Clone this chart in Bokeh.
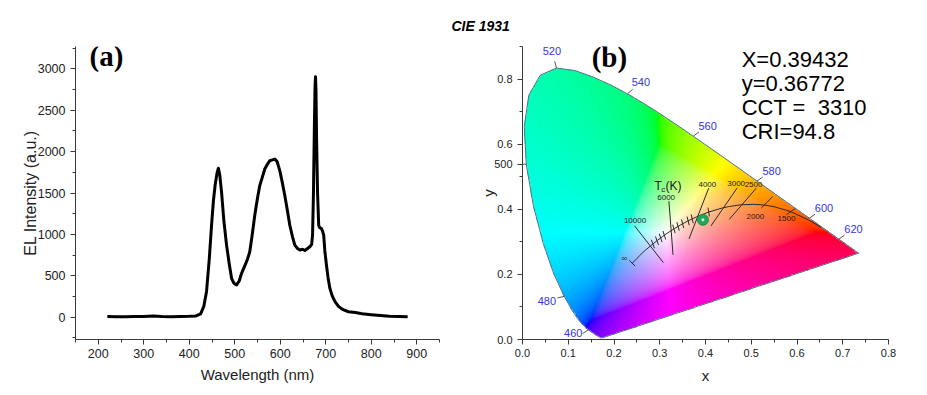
import numpy as np
from bokeh.plotting import figure
from bokeh.layouts import row
from bokeh.models import (Range1d, Label, LabelSet, ColumnDataSource,
                          PrintfTickFormatter, SingleIntervalTicker, FixedTicker)
from bokeh.core.properties import value
from bokeh.embed import file_html
from bokeh.resources import INLINE

# ---------------- Panel (a): EL spectrum ----------------
wavelength_nm = [220, 240, 260, 280, 300, 320, 340, 360, 380, 400, 415, 425, 432, 438,
                 444, 449, 453, 457, 461, 464, 467, 471, 476, 482, 488, 493, 498, 504,
                 510, 515, 522, 528, 533, 538, 544, 550, 555, 560, 566, 572, 577, 583,
                 588, 593, 599, 604, 610, 616, 621, 627, 632, 638, 643, 649, 654, 660,
                 665, 669, 671, 673, 675, 676.5, 677.5, 678.5, 680, 682, 684.5, 687,
                 690.5, 693, 695.5, 698, 701.5, 705, 709, 714, 720, 728, 738, 750, 765,
                 780, 800, 820, 840, 860, 880]
el_intensity = [8, 6, 5, 8, 7, 15, 8, 6, 8, 10, 15, 40, 130, 310,
                700, 1110, 1400, 1600, 1740, 1800, 1720, 1510, 1170, 870, 640, 470, 410, 390,
                440, 530, 620, 700, 790, 980, 1230, 1440, 1590, 1680, 1790, 1850, 1890, 1900,
                1910, 1880, 1770, 1640, 1470, 1280, 1110, 970, 870, 830, 810, 820, 805, 830,
                850, 880, 990, 1500, 2300, 2800, 2905, 2750, 2100, 1500, 1110, 1080,
                1070, 1040, 990, 800, 630, 480, 350, 260, 190, 130, 90, 65, 55,
                40, 30, 20, 12, 8, 5]

# ---------------- Panel (b): CIE 1931 chromaticity ----------------
locus_nm = list(range(380, 705, 5))
locus_x = [0.1741, 0.1740, 0.1738, 0.1736, 0.1733, 0.1730, 0.1726, 0.1721, 0.1714,
           0.1703, 0.1689, 0.1669, 0.1644, 0.1611, 0.1566, 0.1510, 0.1440, 0.1355, 0.1241, 0.1096,
           0.0913, 0.0687, 0.0454, 0.0235, 0.0082, 0.0039, 0.0139, 0.0389, 0.0743, 0.1142, 0.1547,
           0.1929, 0.2296, 0.2658, 0.3016, 0.3373, 0.3731, 0.4087, 0.4441, 0.4788, 0.5125, 0.5448,
           0.5752, 0.6029, 0.6270, 0.6482, 0.6658, 0.6801, 0.6915, 0.7006, 0.7079, 0.7140, 0.7190,
           0.7230, 0.7260, 0.7283, 0.7300, 0.7311, 0.7320, 0.7327, 0.7334, 0.7340, 0.7344, 0.7346, 0.7347]
locus_y = [0.0050, 0.0050, 0.0049, 0.0049, 0.0048, 0.0048, 0.0048, 0.0048, 0.0051,
           0.0058, 0.0069, 0.0086, 0.0109, 0.0138, 0.0177, 0.0227, 0.0297, 0.0399, 0.0578, 0.0868,
           0.1327, 0.2007, 0.2950, 0.4127, 0.5384, 0.6548, 0.7502, 0.8120, 0.8338, 0.8262, 0.8059,
           0.7816, 0.7543, 0.7243, 0.6923, 0.6589, 0.6245, 0.5896, 0.5547, 0.5202, 0.4866, 0.4544,
           0.4242, 0.3965, 0.3725, 0.3514, 0.3340, 0.3197, 0.3083, 0.2993, 0.2920, 0.2859, 0.2809,
           0.2770, 0.2740, 0.2717, 0.2700, 0.2689, 0.2680, 0.2673, 0.2666, 0.2660, 0.2656, 0.2654, 0.2653]
wl_label_nm = [460, 480, 520, 540, 560, 580, 600, 620]
wl_axis_label_nm = 500   # this one sits left of the y axis in the reference

planck_T = ["1000", "1200", "1500", "1800", "2000", "2200", "2500", "2800", "3000", "3500",
            "4000", "4500", "5000", "5500", "6000", "6500", "7000", "8000", "9000", "10000",
            "12000", "15000", "20000", "30000", "inf"]
planck_x = [0.6528, 0.6251, 0.5857, 0.5497, 0.5267, 0.5056, 0.4770, 0.4525, 0.4369, 0.4053,
            0.3805, 0.3608, 0.3451, 0.3325, 0.3221, 0.3135, 0.3064, 0.2952, 0.2869, 0.2807,
            0.2719, 0.2637, 0.2565, 0.2501, 0.2399]
planck_y = [0.3444, 0.3674, 0.3931, 0.4081, 0.4133, 0.4152, 0.4137, 0.4086, 0.4041, 0.3907,
            0.3768, 0.3636, 0.3516, 0.3411, 0.3318, 0.3237, 0.3166, 0.3048, 0.2956, 0.2884,
            0.2782, 0.2683, 0.2577, 0.2489, 0.2342]
planck_tick_x = [0.285, 0.294, 0.302, 0.310, 0.331, 0.340, 0.350, 0.362, 0.371, 0.407]

iso_labels = ["10000", "6000", "4000", "3000", "2500", "2000", "1500"]
iso_x_top = [0.245, 0.320, 0.407, 0.469, 0.511, 0.547, 0.596]
iso_y_top = [0.349, 0.425, 0.465, 0.465, 0.465, 0.439, 0.402]
iso_x_bot = [0.308, 0.329, 0.364, 0.412, 0.452, 0.522, 0.577]
iso_y_bot = [0.236, 0.260, 0.309, 0.349, 0.369, 0.404, 0.384]
iso_label_x = [0.246, 0.314, 0.404, 0.467, 0.505, 0.509, 0.577]
iso_label_y = [0.366, 0.437, 0.475, 0.480, 0.475, 0.379, 0.372]

point_x = [0.39432]
point_y = [0.36772]
stat_lines = ["X=0.39432", "y=0.36772", "CCT =\u00a0 3310", "CRI=94.8"]

FONT = "Liberation Sans"
AXC = "#3a3a3a"
PX_X = 457.5   # px per unit x in panel b
PX_Y = 329.0   # px per unit y in panel b


def style_axes(p, tick_size):
    for ax in (p.xaxis[0], p.yaxis[0]):
        ax.axis_line_color = AXC
        ax.major_tick_line_color = AXC
        ax.minor_tick_line_color = AXC
        ax.major_tick_out = 5
        ax.major_tick_in = 0
        ax.minor_tick_out = 3
        ax.minor_tick_in = 0
        ax.major_label_text_font = FONT
        ax.major_label_text_font_size = tick_size
        ax.major_label_text_color = "#222222"
        ax.axis_label_text_font = FONT
        ax.axis_label_text_font_style = "normal"
        ax.axis_label_text_color = "#222222"
    p.grid.visible = False
    p.outline_line_color = None


# ---------- figure A ----------
pa = figure(width=447, height=386, x_range=Range1d(150, 950), y_range=Range1d(-270, 3270),
            output_backend="svg", toolbar_location=None,
            min_border_left=75, min_border_right=8, min_border_top=46, min_border_bottom=45)
pa.line(wavelength_nm, el_intensity, line_width=3, line_color="black", line_join="round")
pa.xaxis.ticker = SingleIntervalTicker(interval=100, num_minor_ticks=2)
pa.yaxis.ticker = SingleIntervalTicker(interval=500, num_minor_ticks=2)
pa.xaxis.axis_label = "Wavelength (nm)"
pa.yaxis.axis_label = "EL Intensity (a.u.)"
style_axes(pa, "12.5px")
pa.xaxis.axis_label_text_font_size = "15px"
pa.yaxis.axis_label_text_font_size = "16px"
pa.xaxis.major_label_standoff = 4
pa.xaxis.axis_label_standoff = 5
pa.yaxis.major_label_standoff = 5
pa.yaxis.axis_label_standoff = -4
pa.add_layout(Label(x=218, y=3150, text="(a)", text_font="Liberation Serif",
                    text_font_style="bold", text_font_size="29px",
                    text_align="center", text_baseline="middle", text_color="black"))

# ---------- figure B ----------
pb = figure(width=471, height=386, x_range=Range1d(0, 0.8), y_range=Range1d(0, 0.9),
            output_backend="svg", toolbar_location=None,
            min_border_left=75, min_border_right=30, min_border_top=46, min_border_bottom=45)
pb.title.text = "CIE 1931"
pb.title.align = "left"
pb.title.offset = -71
pb.title.standoff = 26
pb.title.text_font = FONT
pb.title.text_font_style = "bold italic"
pb.title.text_font_size = "14px"
pb.title.text_color = "black"

# chromaticity colour fill
lx = np.array(locus_x)
ly = np.array(locus_y)
NX, NY = 480, 540
gx = (np.arange(NX) + 0.5) / NX * 0.8
gy = (np.arange(NY) + 0.5) / NY * 0.9
GX, GY = np.meshgrid(gx, gy)
inside = np.zeros(GX.shape, dtype=bool)
n = len(lx)
j = n - 1
for i in range(n):
    xi, yi, xj, yj = lx[i], ly[i], lx[j], ly[j]
    if yi != yj:
        cond = ((yi > GY) != (yj > GY)) & (GX < (xj - xi) * (GY - yi) / (yj - yi) + xi)
        inside ^= cond
    j = i
Xc = GX / GY
Zc = (1.0 - GX - GY) / GY
R = 3.2406 * Xc - 1.5372 - 0.4986 * Zc
G = -0.9689 * Xc + 1.8758 + 0.0415 * Zc
B = 0.0557 * Xc - 0.2040 + 1.0570 * Zc
rgb = np.stack([R, G, B], axis=-1)
mn = rgb.min(axis=-1, keepdims=True)
rgb = rgb - np.minimum(mn, 0)
mx = rgb.max(axis=-1, keepdims=True)
mx[mx <= 0] = 1
rgb = np.clip(rgb / mx, 0, 1) ** (1 / 2.2)
img = np.zeros((NY, NX), dtype=np.uint32)
view = img.view(dtype=np.uint8).reshape((NY, NX, 4))
view[..., 0] = (rgb[..., 0] * 255).astype(np.uint8)
view[..., 1] = (rgb[..., 1] * 255).astype(np.uint8)
view[..., 2] = (rgb[..., 2] * 255).astype(np.uint8)
view[..., 3] = np.where(inside, 255, 0).astype(np.uint8)
pb.image_rgba(image=[img], x=0, y=0, dw=0.8, dh=0.9)

# locus outline
pb.line(list(lx) + [lx[0]], list(ly) + [ly[0]], line_color="#50708c", line_width=1)

# wavelength ticks & labels (normal taken in data space, as in the reference)
cx0, cy0 = 0.31, 0.31
tk_x0, tk_y0, tk_x1, tk_y1, lab_x, lab_y, lab_t = [], [], [], [], [], [], []
for nm in wl_label_nm:
    i = locus_nm.index(nm)
    tx = lx[i + 1] - lx[i - 1]
    ty = ly[i + 1] - ly[i - 1]
    nvec = np.array([ty, -tx])
    if np.dot(nvec, [lx[i] - cx0, ly[i] - cy0]) < 0:
        nvec = -nvec
    sv = np.array([nvec[0] * PX_X, nvec[1] * PX_Y])
    sv /= np.hypot(*sv)
    px, py = lx[i] * PX_X, ly[i] * PX_Y
    tk_x0.append(lx[i]); tk_y0.append(ly[i])
    tk_x1.append((px + sv[0] * 7) / PX_X); tk_y1.append((py + sv[1] * 7) / PX_Y)
    lab_x.append((px + sv[0] * 18) / PX_X)
    lab_y.append(max((py + sv[1] * 18) / PX_Y, 0.021))
    lab_t.append(str(nm))
i500 = locus_nm.index(wl_axis_label_nm)
tk_x0.append(lx[i500]); tk_y0.append(ly[i500])
tk_x1.append(0.0); tk_y1.append(ly[i500])
pb.segment(tk_x0, tk_y0, tk_x1, tk_y1, line_color="#555555", line_width=1)
pb.add_layout(LabelSet(x="x", y="y", text="t",
                       source=ColumnDataSource(dict(x=lab_x, y=lab_y, t=lab_t)),
                       text_font=value(FONT), text_font_size="11px", text_color="#3434e6",
                       text_align="center", text_baseline="middle"))

# Planckian locus
pb.line(planck_x, planck_y, line_color="#2a2a2a", line_width=1, line_join="round")
pxr = np.array(planck_x)[::-1]
pyr = np.array(planck_y)[::-1]
tkx = np.array(planck_tick_x)
tky = np.interp(tkx, pxr, pyr)
d = 0.004
sl_x = 2 * d * PX_X
sl_y = (np.interp(tkx + d, pxr, pyr) - np.interp(tkx - d, pxr, pyr)) * PX_Y
nl = np.hypot(sl_x, sl_y)
nx_, ny_ = -sl_y / nl, sl_x / nl + 1.0
nl2 = np.hypot(nx_, ny_)
nx_, ny_ = nx_ / nl2, ny_ / nl2
h = 4.5
pb.segment(tkx - nx_ * h / PX_X, tky - ny_ * h / PX_Y, tkx + nx_ * h / PX_X, tky + ny_ * h / PX_Y,
           line_color="#2a2a2a", line_width=1)
# end tick at T = infinity
ex, ey = planck_x[-1], planck_y[-1]
ddx = (planck_x[-2] - ex) * PX_X
ddy = (planck_y[-2] - ey) * PX_Y
nn = np.hypot(ddx, ddy)
enx, eny = -ddy / nn, ddx / nn
pb.segment([ex - enx * 4 / PX_X], [ey - eny * 4 / PX_Y], [ex + enx * 4 / PX_X], [ey + eny * 4 / PX_Y],
           line_color="#2a2a2a", line_width=1)
pb.text(x=[ex - 8 / PX_X], y=[ey + 5 / PX_Y], text=["\u221e"], text_font=value(FONT),
        text_font_size="8px", text_color="#2a2a2a", text_align="center", text_baseline="middle")

# isotherms
pb.segment(iso_x_top, iso_y_top, iso_x_bot, iso_y_bot, line_color="#2a2a2a", line_width=1)
pb.text(x=iso_label_x, y=iso_label_y, text=iso_labels, text_font=value(FONT),
        text_font_size="8px", text_color="#1a1a1a", text_align="center", text_baseline="middle")

# Tc(K)
pb.text(x=[0.2885], y=[0.470], text=["T"], text_font=value(FONT), text_font_size="12px",
        text_color="#1a1a1a", text_align="left", text_baseline="alphabetic")
pb.text(x=[0.3035], y=[0.461], text=["c"], text_font=value(FONT), text_font_size="8px",
        text_color="#1a1a1a", text_align="left", text_baseline="alphabetic")
pb.text(x=[0.3125], y=[0.470], text=["(K)"], text_font=value(FONT), text_font_size="12px",
        text_color="#1a1a1a", text_align="left", text_baseline="alphabetic")

# measured point
pb.scatter(point_x, point_y, size=11, marker="circle", fill_color="#1ea85a", line_color="#16914c")
pb.scatter(point_x, point_y, size=3, marker="circle", fill_color="#d9f5e3", line_color=None)

# stats text
pb.text(x=[0.479] * len(stat_lines), y=[0.860 - k * 0.0735 for k in range(len(stat_lines))],
        text=stat_lines, text_font=value(FONT), text_font_size="22px", text_color="black",
        text_align="left", text_baseline="middle")

pb.add_layout(Label(x=0.190, y=0.867, text="(b)", text_font="Liberation Serif",
                    text_font_style="bold", text_font_size="29px",
                    text_align="center", text_baseline="middle", text_color="black"))

pb.xaxis.ticker = SingleIntervalTicker(interval=0.1, num_minor_ticks=2)
y_major = [0.0, 0.2, 0.4, 0.6, 0.8]
y_minor = [0.1, 0.3, 0.5, 0.7, 0.9]
pb.yaxis.ticker = FixedTicker(ticks=y_major + [ly[i500]], minor_ticks=y_minor)
pb.xaxis.formatter = PrintfTickFormatter(format="%.1f")
pb.yaxis.formatter = PrintfTickFormatter(format="%.1f")
pb.yaxis.major_label_overrides = {float(ly[i500]): str(wl_axis_label_nm)}
pb.xaxis.axis_label = "x"
pb.yaxis.axis_label = "y"
style_axes(pb, "11px")
pb.xaxis.axis_label_text_font_size = "15px"
pb.yaxis.axis_label_text_font_size = "15px"
pb.xaxis.major_label_standoff = 4
pb.xaxis.axis_label_standoff = 7
pb.yaxis.major_label_standoff = 5
pb.yaxis.axis_label_standoff = -6

layout = row(pa, pb)
open("out.html", "w").write(file_html(layout, INLINE))
